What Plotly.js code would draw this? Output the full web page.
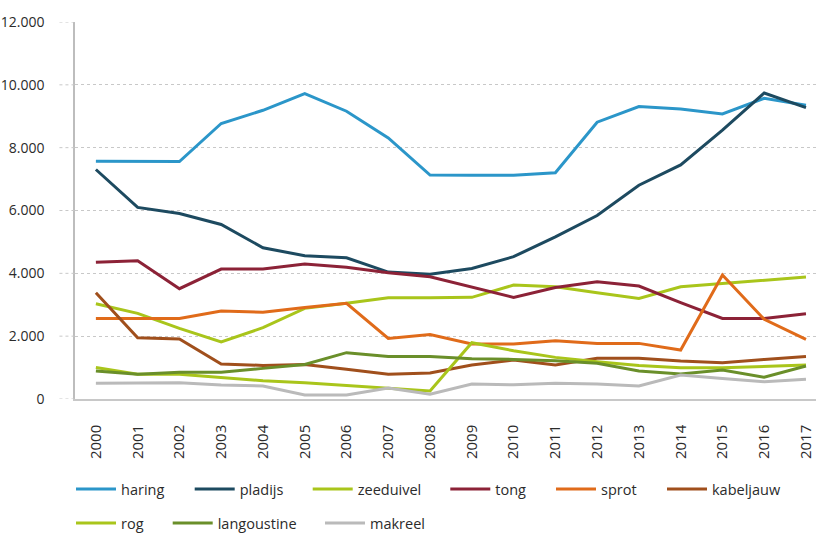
<!DOCTYPE html>
<html>
<head>
<meta charset="utf-8">
<script src="https://cdn.plot.ly/plotly-3.0.1.min.js"></script>
<style>
  html, body { margin: 0; padding: 0; background: #ffffff; }
  #chart { width: 816px; height: 534px; }
</style>
</head>
<body>
<div id="chart"></div>
<script>
// ---- data ----
var years = [2000, 2001, 2002, 2003, 2004, 2005, 2006, 2007, 2008, 2009, 2010, 2011, 2012, 2013, 2014, 2015, 2016, 2017];
var seriesNames = ["haring", "pladijs", "zeeduivel", "tong", "sprot", "kabeljauw", "rog", "langoustine", "makreel"];

var haring      = [7570, 7560, 7560, 8770, 9190, 9720, 9160, 8310, 7130, 7125, 7125, 7200, 8810, 9310, 9230, 9075, 9570, 9350];
var pladijs     = [7305, 6100, 5905, 5555, 4815, 4560, 4495, 4040, 3970, 4155, 4530, 5160, 5840, 6805, 7450, 8555, 9740, 9275];
var zeeduivel   = [3030, 2725, 2250, 1815, 2270, 2885, 3045, 3225, 3225, 3235, 3625, 3570, 3380, 3200, 3570, 3680, 3785, 3880];
var tong        = [4355, 4400, 3510, 4135, 4135, 4295, 4190, 4020, 3890, 3570, 3235, 3550, 3730, 3595, 3065, 2565, 2565, 2715];
var sprot       = [2565, 2565, 2565, 2800, 2765, 2915, 3045, 1930, 2050, 1750, 1750, 1855, 1770, 1770, 1560, 3945, 2535, 1900];
var kabeljauw   = [3380, 1950, 1910, 1115, 1070, 1100, 945, 785, 830, 1080, 1240, 1080, 1295, 1295, 1210, 1155, 1260, 1355];
var rog         = [1005, 785, 785, 680, 580, 520, 425, 340, 255, 1790, 1535, 1325, 1185, 1070, 995, 995, 1030, 1080];
var langoustine = [890, 785, 850, 850, 975, 1100, 1475, 1355, 1350, 1280, 1260, 1220, 1135, 890, 795, 920, 690, 1050];
var makreel     = [500, 500, 520, 445, 415, 125, 125, 350, 150, 475, 455, 500, 475, 415, 765, 655, 550, 625];

var yTicks = [0, 2000, 4000, 6000, 8000, 10000, 12000];

// ---- styles ----
var seriesValues = [haring, pladijs, zeeduivel, tong, sprot, kabeljauw, rog, langoustine, makreel];
var colors = ["#2b96c9", "#1d4a60", "#a9c51b", "#8c2237", "#e06b1a", "#a04f1c", "#a9c51b", "#6a8f2a", "#bababa"];
// legend line start positions (px in container) and rows
var legendX = [76, 194.7, 312.7, 450.3, 556, 667, 76, 172.7, 325];
var legendY = [489, 489, 489, 489, 489, 489, 523, 523, 523];

var W = 816, H = 534;
var FONT = "Open Sans, sans-serif";

var traces = [];
var layout = {
  width: W, height: H,
  margin: {l: 75, r: 0, t: 22, b: 135, pad: 0},
  paper_bgcolor: "#ffffff",
  plot_bgcolor: "#ffffff",
  separators: ",.",
  font: {family: FONT, size: 14, color: "#2b2b2b"},
  showlegend: true,
  xaxis: {
    type: "linear",
    range: [1999.5, 2017.24],
    tickvals: years,
    ticktext: years.map(String),
    tickangle: -90,
    ticks: "",
    ticklabelstandoff: 18,
    showgrid: false,
    zeroline: false,
    showline: true,
    linecolor: "#c8c8c8",
    linewidth: 1.5,
    tickfont: {family: FONT, size: 15, color: "#2b2b2b"},
    fixedrange: true
  },
  yaxis: {
    range: [0, 12000],
    tickvals: yTicks,
    tickformat: ",d",
    ticks: "",
    ticklabelstandoff: 26,
    showgrid: true,
    gridcolor: "#c8c8c8",
    griddash: "dot",
    gridwidth: 1,
    zeroline: false,
    showline: true,
    linecolor: "#bdbdbd",
    linewidth: 1.5,
    tickfont: {family: FONT, size: 14, color: "#2b2b2b"},
    fixedrange: true
  },
  shapes: []
};

// dotted extension of the gridlines to the left of the y axis
yTicks.forEach(function (v) {
  layout.shapes.push({
    type: "line", xref: "paper", yref: "y",
    x0: -0.021, x1: 0, y0: v, y1: v,
    line: {color: "#c8c8c8", width: 1, dash: "dot"}
  });
});

seriesNames.forEach(function (name, i) {
  var legName = i === 0 ? "legend" : "legend" + (i + 1);
  traces.push({
    type: "scatter",
    mode: "lines",
    name: name,
    x: years,
    y: seriesValues[i],
    line: {color: colors[i], width: 3},
    legend: legName,
    hoverinfo: "x+y+name"
  });
  layout[legName] = {
    xref: "container", yref: "container",
    x: (legendX[i] - 5) / W,
    y: 1 - legendY[i] / H,
    xanchor: "left", yanchor: "middle",
    bgcolor: "rgba(0,0,0,0)",
    borderwidth: 0,
    itemwidth: 40,
    font: {family: FONT, size: 14.5, color: "#2b2b2b"},
    orientation: "h",
    tracegroupgap: 0
  };
});

Plotly.newPlot("chart", traces, layout, {displayModeBar: false, staticPlot: false});
</script>
</body>
</html>
